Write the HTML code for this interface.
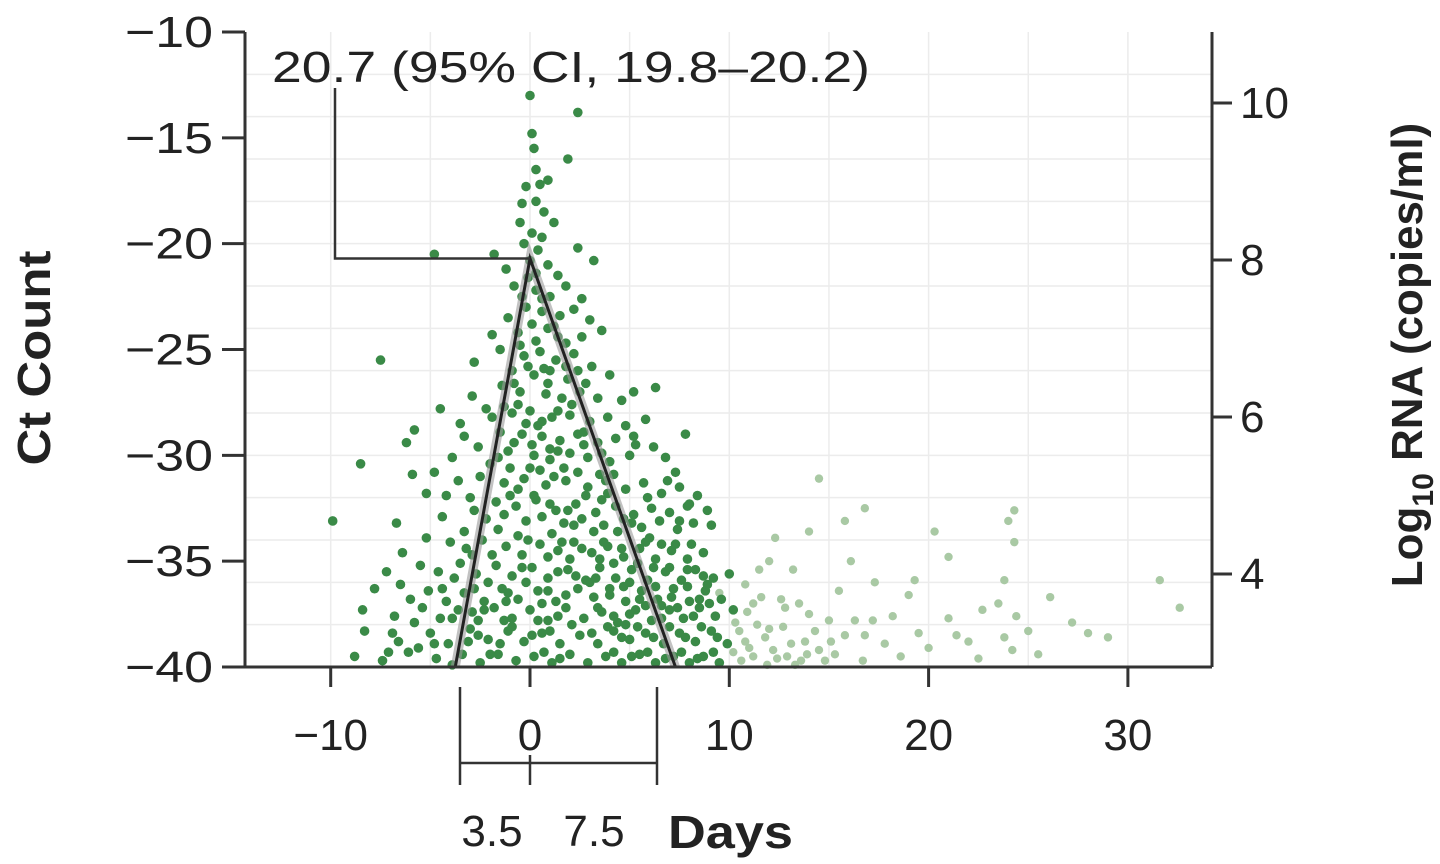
<!DOCTYPE html>
<html><head><meta charset="utf-8">
<style>
html,body{margin:0;padding:0;background:#fff;}
svg{display:block;font-family:"Liberation Sans",sans-serif;}
</style></head>
<body>
<svg id="chart" width="1440" height="864" viewBox="0 0 1440 864">
<g id="grid"></g>
<g id="pts"></g>
<g id="fit"></g>
<g id="axes"></g>
<text x="272" y="82" font-size="44" textLength="598" lengthAdjust="spacingAndGlyphs" fill="#222">20.7 (95% CI, 19.8–20.2)</text>
<text transform="translate(50,358) rotate(-90)" text-anchor="middle" font-size="46" font-weight="bold" fill="#222" textLength="215" lengthAdjust="spacingAndGlyphs">Ct Count</text>
<text transform="translate(1422,355) rotate(-90)" text-anchor="middle" font-size="44" font-weight="bold" fill="#222">Log<tspan font-size="30" dy="11">10</tspan><tspan dy="-11"> RNA (copies/ml)</tspan></text>
<text x="668" y="848" font-size="46" font-weight="bold" fill="#222" textLength="125" lengthAdjust="spacingAndGlyphs">Days</text>
</svg>
<script>
const xTicks=[-10,0,10,20,30];
const yTicks=[10,15,20,25,30,35,40];
const rTicks=[10,8,6,4];
const peakDay=0, peakCt=20.7, onsetDay=-3.75, clearDay=7.3;
const bracketLabels=["3.5","7.5"];
const dark=[[0,13],[2.4,13.8],[0.1,14.8],[0.2,15.5],[0.3,16.5],[1.9,16],[-0.2,17.3],[0.5,17.2],[0.9,17],[0.3,18],[0.7,18.5],[-0.4,18.1],
[-0.5,19],[0.1,19.5],[0.6,19.7],[1.2,19],[-0.3,20],[0.4,20.3],[2.4,20.2],[-1.8,20.5],[-4.8,20.5],[-1.2,21.2],[0,20.8],[0.9,21],[3.2,20.8],[-0.1,21.6],[1.4,21.5],
[-0.8,22],[0.3,22.2],[1,22.5],[1.8,22],[2.6,22.6],[-0.2,23],[0.6,23.2],[1.5,23.4],[2.2,23.1],[-1.1,23.5],[0.1,23.8],[3,23.6],[-0.6,24.2],[0.9,24],[2.6,24.4],[1.8,24.7],[-1.9,24.3],[3.6,24.1],
[-1.5,25],[-0.3,25.3],[0.5,25.1],[1.3,25.5],[2.2,25.2],[3.1,25.8],[-0.9,26],[0.2,26.2],[1,26],[1.9,26.4],[2.8,26.6],[4,26.2],[-2.8,25.6],[-7.5,25.5],[-1.4,26.7],[-0.5,27],[0.8,27.1],[1.6,27.3],[2.5,27],[3.4,27.3],[4.6,27.4],[5.2,27],[6.3,26.8],
[-2.2,27.8],[-0.9,28],[0,27.9],[1.1,28.2],[2,28.1],[3,28.4],[3.9,28.2],[4.8,28.6],[5.8,28.3],[-3.5,28.5],[-4.5,27.8],[-1.5,28.9],[-0.4,29],[0.6,29.1],[1.5,29.3],[2.4,29],[3.4,29.4],[4.3,29.2],[5.3,29.5],[6.2,29.6],[7.8,29],[-2.6,29.6],[-5.8,28.8],[-6.2,29.4],[-3.3,29.1],[-1.1,29.8],[0.2,30],[1,30.2],[2.9,30.1],[4,30.3],[5,30],[6.8,30.1],[-8.5,30.4],[-2,30.4],
[-4.8,30.8],[-3.6,31.2],[-2.5,31],[-1.3,31.3],[-0.3,31.1],[0.8,31.4],[1.8,31.2],[2.9,31.5],[3.8,31.2],[4.8,31.6],[5.7,31.3],[6.6,31.8],[7.5,31.5],[8.4,31.9],[-5.2,31.8],[-3,32],[-1.7,32.2],[-0.7,32.4],[0.3,32.1],[1.3,32.6],[2.3,32.3],[3.3,32.7],[4.3,32.4],[5.2,32.8],[6.1,32.5],[7,32.7],[7.9,32.4],[8.9,32.6],[-4.4,32.9],[-2.2,33],[-0.2,33.1],[1.7,33.2],[2.6,33],[3.7,33.3],[4.7,33],[5.6,33.4],[6.5,33.1],[7.4,33.5],[8.2,33.2],[9.1,33.3],[-9.9,33.1],
[-5.2,33.9],[-4,34.1],[-3.2,34.4],[-2.4,34],[-1.2,34.3],[-0.4,34.7],[0.5,34.2],[1.4,34.5],[2.2,34.1],[3.1,34.6],[3.9,34.3],[4.7,34.8],[5.5,34.4],[6.3,34.9],[7.1,34.5],[7.9,34.9],[8.7,34.6],[-5.5,35.2],[-4.6,35.5],[-3.5,35.1],[-2.7,35.6],[-1.7,35.2],[-0.9,35.7],[0.1,35.3],[0.9,35.8],[1.9,35.4],[2.8,35.9],[3.5,35.3],[4.3,35.8],[5.1,35.4],[5.9,35.9],[6.8,35.5],[7.6,35.9],[8.3,35.4],[9.2,35.8],[10,35.6],[-7.2,35.5],[-6.4,34.6],
[-7.8,36.3],[-6,36.8],[-5.1,36.4],[-4.2,36.9],[-3.3,36.5],[-2.3,36.9],[-1.4,36.3],[-0.6,36.8],[0.4,36.4],[1.3,36.9],[2.4,36.3],[3.2,36.7],[4,36.3],[4.8,36.9],[5.6,36.4],[6.4,36.8],[7.2,36.3],[8,36.9],[8.8,36.4],[9.6,36.8],[-8.4,37.3],[-6.8,37.6],[-5.4,37.2],[-4.5,37.7],[-3.6,37.3],[-2.6,37.8],[-1.8,37.2],[-0.9,37.7],[0,37.3],[0.9,37.8],[1.8,37.2],[2.7,37.7],[3.6,37.4],[4.4,37.9],[5.3,37.3],[6.1,37.8],[7,37.3],[7.7,37.7],[8.5,37.2],[9.3,37.6],[10.2,37.3],
[-8.3,38.3],[-6.6,38.8],[-5,38.4],[-4.1,38.9],[-3,38.2],[-2.1,38.7],[-1.1,38.3],[-0.3,38.8],[0.6,38.4],[1.5,38.9],[2.5,38.5],[3.4,38.9],[4.2,38.3],[5,38.7],[5.8,38.4],[6.7,38.9],[7.5,38.4],[8.3,38.8],[9.1,38.3],[9.9,38.9],[-8.8,39.5],[-7.4,39.7],[-6.1,39.3],[-4.7,39.6],[-3.4,39.4],[-2.5,39.8],[-1.6,39.4],[-0.7,39.7],[0.2,39.5],[1.1,39.8],[2,39.4],[2.9,39.8],[3.8,39.5],[4.6,39.8],[5.5,39.4],[6.3,39.8],[7.2,39.5],[8,39.8],[8.7,39.5],[9.5,39.8],[-3.9,39.9],
[-0.5,24.8],[0.7,25.9],[-0.2,28.5],[0.5,30.7],[-1,31.9],[1.1,33.7],[-0.6,33.8],[2,34.9],[3.5,34.9],[4.2,35.1],[6,33.9],[7.3,34.2],[5,36],[6.6,37.1],[4.8,38],[8.9,36.1],[3,36],[2.1,38],[-0.2,36],[0.6,37],[1.7,30.6],[-1,30.6],[3.5,30.9],[2.1,27.6],[0.4,28.6],[1.4,29.8],[-0.8,26.6],[-1.6,33.5],[-2.8,36.3],[-0.9,38.1],
[0.3,21.4],[0.6,22.6],[-0.4,22.5],[1.2,23.9],[0.3,24.6],[1.4,24.4],[-0.1,25.8],[0.9,26.6],[1.8,25.8],[2.4,26],[-0.6,27.6],[1.4,27.9],[0.6,28.4],[2.7,28.9],[-0.8,29.4],[0.1,29.5],[1,29.7],[2,29.9],[-1.6,30.1],[0,30.6],[1.2,31],[2.4,30.8],[-0.6,31.6],[0.2,31.9],[1,32.3],[1.9,32.6],[-1.3,32.8],[0.6,32.9],[2.8,31.9],[3.9,31.8],[-0.1,34],[0.9,34.8],[1.6,34.1],[2.6,34.4],[-1.9,34.7],[-0.4,35.3],[1.4,35.5],[2.3,35.7],[-1.1,36.5],[0.9,36.4],[1.8,36.6],[-2.9,37.4],[-1.3,37.8],[0.4,37.8],[1.4,37.6],[-2.6,38.5],[-1.5,38.9],[0.1,38.5],[1,38.3],[-2,39.4],[0.7,39.3],[1.5,39.6],[3.6,32.1],[4.4,33.6],[5.1,33.2],[5.8,34.1],[6.6,34.2],[7.5,33.1],[8.1,34.2],[3.7,34.1],[4.6,34.4],[5.4,35.1],[6.2,35.3],[7,35.3],[7.9,35.4],[8.7,35.7],[3.3,35.8],[4,36.6],[4.7,36.2],[5.5,36.8],[6.3,36.2],[7.1,36.7],[7.9,36.2],[8.5,36.8],[3.4,37.2],[4.2,37.6],[5,37.5],[5.8,37.1],[6.6,37.7],[7.4,37.2],[8.2,37.6],[9,37],[3.1,38.4],[3.9,38.1],[4.6,38.6],[5.4,38.1],[6.2,38.6],[7,38.1],[7.8,38.6],[8.6,38.1],[9.4,38.6],[4.2,39.3],[5.1,39.5],[5.9,39.3],[6.8,39.6],[7.6,39.3],[8.4,39.6],[9.2,39.3],[5.9,32],[6.9,31.2],[7.3,30.8],[8,32.3],[4.2,30.9],[5.2,29.1],[3.6,29.9],[2.7,29.5],[3.2,33.6],[2.2,33.3],[-2.9,34.7],[-3.8,35.8],[-4.4,36.3],[-3.9,37.7],[-3.1,38.8],[-4.8,38.9],[-5.8,37.9],[-5.6,39.1],[-6.5,36.1],[-2.1,36],[-2.3,37.3],[-1.2,36.9],[-3.3,33.6],[-2.8,32.6],[-4.2,31.9],[-6.9,38.4],[-7.1,39.3],[-5.9,30.9],[-6.7,33.2],[-3.9,30.1],[-2.9,27.2],[-1.9,28.2],[-1.3,27.7]];
const light=[[9.5,36.5],[10.3,37.9],[10.8,38.8],[11.2,39.5],[11.6,36.7],[12,38.2],[12.4,39.6],[12.8,37.2],[13.1,38.9],[13.6,39.7],[14,37.5],[14.5,39.2],[10.6,39.7],[11.9,39.9],[13.3,39.9],[14.3,38.3],[12.3,33.9],[13.2,35.4],[14,33.6],[15,37.8],[15.5,36.4],[15.8,38.5],[16.3,37.8],[16.8,38.5],[17.2,37.8],[16.7,39.7],[15.3,39.4],[16.1,35],[17.3,36],[14.5,31.1],[12,35],[11.2,37],[19,36.6],[20.3,33.6],[21,34.8],[19.5,38.4],[20,39.1],[21.4,38.5],[22.5,39.6],[23.5,37],[23.8,35.9],[24,33.1],[24.3,32.6],[24.3,34.1],[23.8,38.6],[24.2,39.2],[25,38.3],[25.5,39.4],[26.1,36.7],[27.2,37.9],[28,38.4],[29,38.6],[31.6,35.9],[32.6,37.2],[18.2,37.6],[17.8,38.9],[22,38.8],[21,37.7],[18.6,39.5],[15.8,33.1],[16.8,32.5],[10.8,36.1],[12.6,36.8],[13.5,37],[15.1,38.8],[11.5,35.4],[24.4,37.6],[19.3,35.9],[22.7,37.3],
[10.5,38.3],[11,39.1],[11.8,38.6],[12.2,39.2],[12.9,39.5],[13.8,38.8],[11.4,38],[10.2,39.3],[12.7,38.1],[13.9,39.4],[14.8,39.7],[10.9,37.4]];

const NS="http://www.w3.org/2000/svg";
const L=245,R=1212,T=32,B=667;
function xs(d){return 530+d*19.93;}
function ys(c){return T+(c-10)*(B-T)/30;}
function yr(v){return 103+(10-v)*78.5;}
function mk(tag,attrs,parent){const e=document.createElementNS(NS,tag);for(const k in attrs)e.setAttribute(k,attrs[k]);parent.appendChild(e);return e;}
const grid=document.getElementById('grid'),pts=document.getElementById('pts'),fit=document.getElementById('fit'),axes=document.getElementById('axes');
for(let c=12;c<40;c+=2){const g=mk('line',{x1:L,x2:R,y1:ys(c),y2:ys(c),stroke:'#ececec','stroke-width':1.5},grid);

}
for(let d=-10;d<=30;d+=5){const g=mk('line',{x1:xs(d),x2:xs(d),y1:T,y2:B,stroke:'#ececec','stroke-width':1.5},grid);

}
light.forEach(p=>{const c=mk('circle',{cx:xs(p[0]),cy:ys(p[1]),r:4.2,fill:'#a9c9a4'},pts);

});
dark.forEach(p=>{const c=mk('circle',{cx:xs(p[0]),cy:ys(p[1]),r:4.8,fill:'#3a8a47'},pts);

});
const tri=mk('polyline',{points:`${xs(onsetDay)},${B} ${xs(peakDay)},${ys(peakCt)} ${xs(clearDay)},${B}`,fill:'none',stroke:'#999','stroke-width':9,opacity:0.6},fit);


const tri2=mk('polyline',{points:`${xs(onsetDay)},${B} ${xs(peakDay)},${ys(peakCt)} ${xs(clearDay)},${B}`,fill:'none',stroke:'#222','stroke-width':3},fit);


const ann=mk('polyline',{points:`335,88 335,${ys(peakCt)} ${xs(peakDay)},${ys(peakCt)}`,fill:'none',stroke:'#333','stroke-width':2.5},fit);


const ax=[[L,T,L,B],[222,B,R,B],[R,T,R,B]];
ax.forEach(a=>{const l=mk('line',{x1:a[0],y1:a[1],x2:a[2],y2:a[3],stroke:'#333','stroke-width':3},axes);

});
yTicks.forEach(c=>{const y=ys(c);mk('line',{x1:222,x2:L,y1:y,y2:y,stroke:'#333','stroke-width':3},axes);
const t=mk('text',{x:213,y:y+15,'text-anchor':'end','font-size':44,fill:'#222',textLength:88,lengthAdjust:'spacingAndGlyphs'},axes);t.textContent='\u2212'+c;

});
xTicks.forEach(d=>{const x=xs(d);mk('line',{x1:x,x2:x,y1:B,y2:B+20,stroke:'#333','stroke-width':3},axes);
const t=mk('text',{x:x,y:750,'text-anchor':'middle','font-size':44,fill:'#222'},axes);t.textContent=d<0?'\u2212'+(-d):String(d);

});
rTicks.forEach(v=>{const y=yr(v);mk('line',{x1:R,x2:R+20,y1:y,y2:y,stroke:'#333','stroke-width':3},axes);
const t=mk('text',{x:1240,y:y+15,'font-size':44,fill:'#222'},axes);t.textContent=String(v);

});
const bx=[460,xs(0),657];
const br=mk('polyline',{points:`460,${B+20} 460,785 460,763 657,763 657,${B+20} 657,785`,fill:'none',stroke:'#333','stroke-width':2.5},axes);


mk('line',{x1:bx[1],x2:bx[1],y1:755,y2:785,stroke:'#333','stroke-width':2.5},axes);
const b1=mk('text',{x:492,y:846,'text-anchor':'middle','font-size':44,fill:'#222'},axes);b1.textContent=bracketLabels[0];


const b2=mk('text',{x:594,y:846,'text-anchor':'middle','font-size':44,fill:'#222'},axes);b2.textContent=bracketLabels[1];


</script>
</body></html>
